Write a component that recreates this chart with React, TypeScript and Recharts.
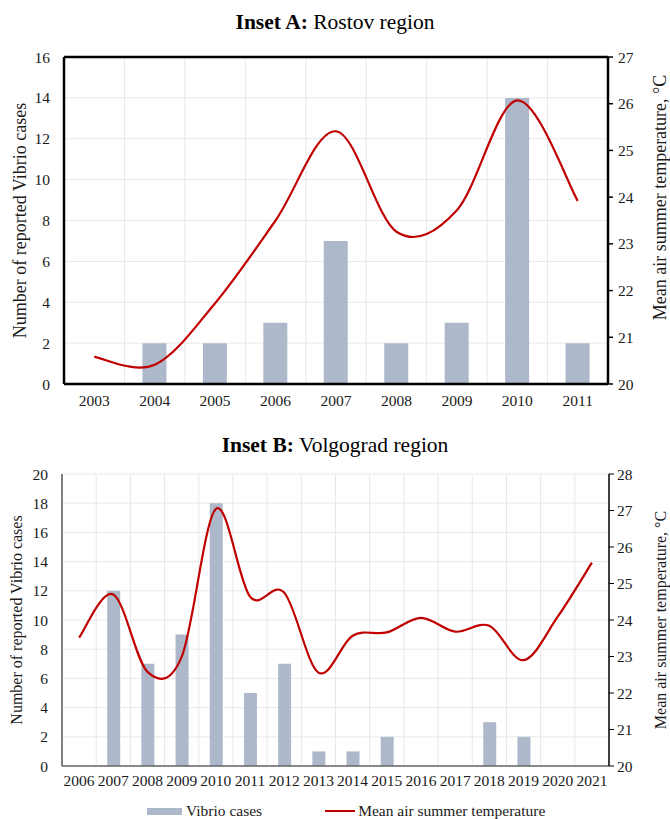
import React from "react";
import {
  ComposedChart,
  Bar,
  Line,
  XAxis,
  YAxis,
  CartesianGrid,
  ReferenceLine,
} from "recharts";

// Inset A: Rostov region
const yearsA = ["2003", "2004", "2005", "2006", "2007", "2008", "2009", "2010", "2011"];
const casesA = [0, 2, 2, 3, 7, 2, 3, 14, 2];
const tempA = [20.58, 20.41, 21.73, 23.5, 25.41, 23.26, 23.72, 26.07, 23.92];
const leftTicksA = [0, 2, 4, 6, 8, 10, 12, 14, 16];
const rightTicksA = [20, 21, 22, 23, 24, 25, 26, 27];

// Inset B: Volgograd region
const yearsB = [
  "2006", "2007", "2008", "2009", "2010", "2011", "2012", "2013",
  "2014", "2015", "2016", "2017", "2018", "2019", "2020", "2021",
];
const casesB = [0, 12, 7, 9, 18, 5, 7, 1, 1, 2, 0, 0, 3, 2, 0, 0];
const tempB = [
  23.52, 24.7, 22.58, 22.99, 27.04, 24.64, 24.75, 22.56,
  23.57, 23.66, 24.06, 23.68, 23.84, 22.9, 24.09, 25.57,
];
const leftTicksB = [0, 2, 4, 6, 8, 10, 12, 14, 16, 18, 20];
const rightTicksB = [20, 21, 22, 23, 24, 25, 26, 27, 28];

const serif = '"Liberation Serif", "Times New Roman", serif';
const BAR = "#adb9ca";
const RED = "#c00000";
const TEXT = "#1a1a1a";

// Excel-style smoothed line (Catmull-Rom as bezier segments)
function smoothCurve(context: any) {
  let pts: [number, number][] = [];
  return {
    areaStart() {},
    areaEnd() {},
    lineStart() {
      pts = [];
    },
    point(x: number, y: number) {
      pts.push([+x, +y]);
    },
    lineEnd() {
      if (!pts.length) return;
      context.moveTo(pts[0][0], pts[0][1]);
      for (let i = 0; i < pts.length - 1; i++) {
        const p0 = pts[i - 1] || pts[i];
        const p1 = pts[i];
        const p2 = pts[i + 1];
        const p3 = pts[i + 2] || p2;
        context.bezierCurveTo(
          p1[0] + (p2[0] - p0[0]) / 6,
          p1[1] + (p2[1] - p0[1]) / 6,
          p2[0] - (p3[0] - p1[0]) / 6,
          p2[1] - (p3[1] - p1[1]) / 6,
          p2[0],
          p2[1]
        );
      }
    },
  };
}

const sideTitle = (text: string, side: "left" | "right", fontSize: number, dx: number, dy = 0) =>
  (props: any) => {
    const vb = props.viewBox || {};
    const x = side === "left" ? vb.x + dx : vb.x + vb.width - dx;
    const y = vb.y + vb.height / 2 + dy;
    return (
      <text
        x={x}
        y={y}
        transform={`rotate(-90 ${x} ${y})`}
        textAnchor="middle"
        dominantBaseline="central"
        style={{ fontFamily: serif, fontSize }}
        fill={TEXT}
      >
        {text}
      </text>
    );
  };

interface InsetProps {
  years: string[];
  cases: number[];
  temps: number[];
  leftTicks: number[];
  rightTicks: number[];
  width: number;
  height: number;
  margin: { top: number; right: number; bottom: number; left: number };
  leftWidth: number;
  rightWidth: number;
  xHeight: number;
  barSize: number;
  heavy: boolean;
  labelSize: number;
  rightTitleDy: number;
  xTickMargin: number;
  leftTitleDx: number;
  rightTitleDx: number;
}

function Inset(p: InsetProps) {
  const rows = p.years.map((year, i) => ({ year, cases: p.cases[i], temp: p.temps[i] }));
  const n = rows.length;
  const axisW = p.heavy ? 2.5 : 1.5;
  const tick = { fontSize: 15.5, fill: TEXT, fontFamily: serif };
  return (
    <ComposedChart
      width={p.width}
      height={p.height}
      data={rows}
      margin={p.margin}
      style={{ fontFamily: serif }}
    >
      <CartesianGrid
        stroke="#e8e8e8"
        strokeWidth={1}
        verticalCoordinatesGenerator={({ offset }: any) =>
          Array.from({ length: n - 1 }, (_, i) => offset.left + ((i + 1) * offset.width) / n)
        }
        yAxisId="left"
      />
      <XAxis
        dataKey="year"
        height={p.xHeight}
        tickLine={false}
        tickMargin={p.xTickMargin}
        interval={0}
        axisLine={{ stroke: p.heavy ? "#000" : "#666", strokeWidth: axisW }}
        tick={tick}
      />
      <YAxis
        yAxisId="left"
        orientation="left"
        width={p.leftWidth}
        domain={[p.leftTicks[0], p.leftTicks[p.leftTicks.length - 1]]}
        ticks={p.leftTicks}
        interval={0}
        tickLine={false}
        tickMargin={8}
        axisLine={{ stroke: p.heavy ? "#000" : "#555", strokeWidth: axisW }}
        tick={tick}
        label={{ content: sideTitle("Number of reported Vibrio cases", "left", p.labelSize, p.leftTitleDx) }}
      />
      <YAxis
        yAxisId="right"
        orientation="right"
        width={p.rightWidth}
        domain={[p.rightTicks[0], p.rightTicks[p.rightTicks.length - 1]]}
        ticks={p.rightTicks}
        interval={0}
        tickSize={5}
        tickMargin={p.heavy ? 5 : 3}
        tickLine={{ stroke: "#000", strokeWidth: p.heavy ? 1.5 : 1 }}
        axisLine={{ stroke: "#000", strokeWidth: axisW }}
        tick={tick}
        label={{
          content: sideTitle("Mean air summer temperature, °C", "right", p.labelSize, p.rightTitleDx, p.rightTitleDy),
        }}
      />
      {p.heavy && (
        <ReferenceLine yAxisId="left" y={p.leftTicks[p.leftTicks.length - 1]} stroke="#000" strokeWidth={axisW} />
      )}
      <Bar yAxisId="left" dataKey="cases" fill={BAR} barSize={p.barSize} isAnimationActive={false} />
      <Line
        yAxisId="right"
        dataKey="temp"
        type={smoothCurve as any}
        stroke={RED}
        strokeWidth={2.2}
        dot={false}
        activeDot={false}
        isAnimationActive={false}
      />
    </ComposedChart>
  );
}

const titleStyle: React.CSSProperties = {
  position: "absolute",
  left: 0,
  width: 670,
  textAlign: "center",
  fontFamily: serif,
  fontSize: 21.5,
  color: "#000",
  lineHeight: "26px",
};

export default function App() {
  return (
    <div
      style={{
        position: "absolute",
        left: 0,
        top: 0,
        width: 670,
        height: 819,
        background: "#fff",
        fontFamily: serif,
      }}
    >
      <div style={{ ...titleStyle, top: 9 }}>
        <b>Inset A:</b> Rostov region
      </div>
      <div style={{ position: "absolute", left: 0, top: 0 }}>
        <Inset
          years={yearsA}
          cases={casesA}
          temps={tempA}
          leftTicks={leftTicksA}
          rightTicks={rightTicksA}
          width={670}
          height={420}
          margin={{ top: 57, right: 0, bottom: 6, left: 0 }}
          leftWidth={64}
          rightWidth={62}
          xHeight={30}
          barSize={24}
          heavy={true}
          labelSize={18}
          rightTitleDy={-23}
          xTickMargin={5}
          leftTitleDx={20}
          rightTitleDx={10}
        />
      </div>
      <div style={{ ...titleStyle, top: 432 }}>
        <b>Inset B:</b> Volgograd region
      </div>
      <div style={{ position: "absolute", left: 0, top: 420 }}>
        <Inset
          years={yearsB}
          cases={casesB}
          temps={tempB}
          leftTicks={leftTicksB}
          rightTicks={rightTicksB}
          width={670}
          height={399}
          margin={{ top: 54, right: 0, bottom: 28, left: 0 }}
          leftWidth={62}
          rightWidth={61}
          xHeight={25}
          barSize={13}
          heavy={false}
          labelSize={16}
          rightTitleDy={0}
          xTickMargin={3}
          leftTitleDx={16}
          rightTitleDx={10}
        />
      </div>
      <div
        style={{
          position: "absolute",
          top: 802,
          left: 147,
          display: "flex",
          alignItems: "center",
          fontFamily: serif,
          fontSize: 15.5,
          color: TEXT,
          lineHeight: "18px",
        }}
      >
        <span style={{ display: "inline-block", width: 35, height: 7, background: BAR, marginRight: 4 }} />
        <span>Vibrio cases</span>
        <span style={{ display: "inline-block", width: 30, height: 2, background: RED, marginLeft: 63, marginRight: 3 }} />
        <span>Mean air summer temperature</span>
      </div>
    </div>
  );
}
